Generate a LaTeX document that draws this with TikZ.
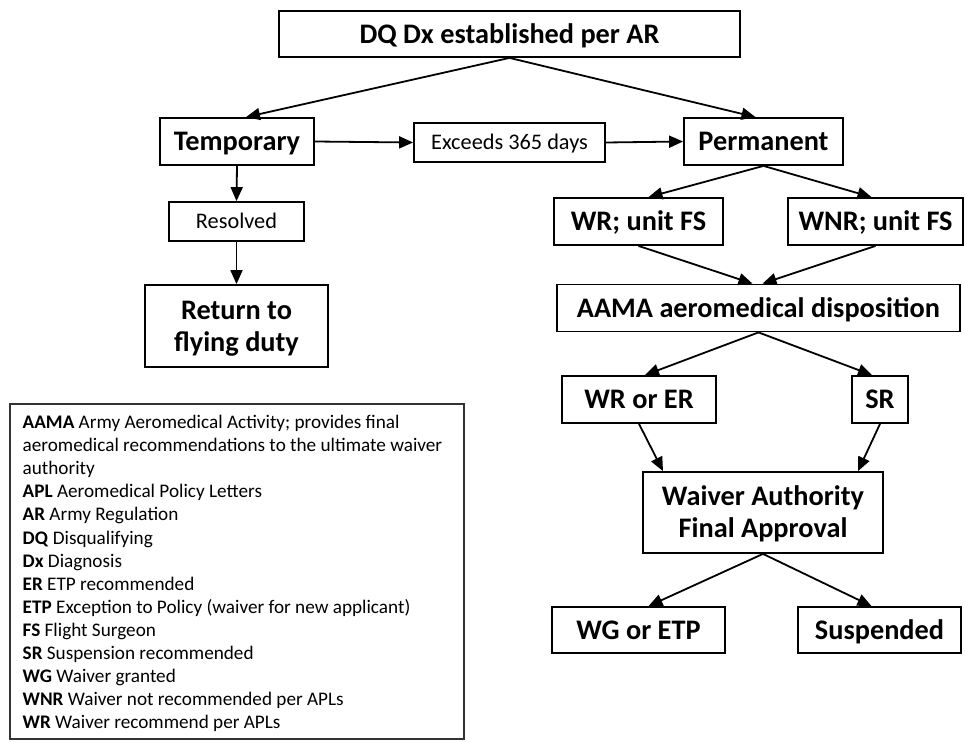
\documentclass[tikz,border=0pt]{standalone}
\usepackage{fontspec}
\setmainfont{Carlito}
\usetikzlibrary{arrows.meta}
\tikzset{
  box/.style={draw=black, line width=1.8pt, fill=white, inner sep=0pt, align=center,
    font=\fontsize{28.3}{32}\selectfont\bfseries, text height=18.2pt, text depth=0pt},
  twoline/.style={text height=50.2pt, text depth=0pt},
  smallbox/.style={draw=black, line width=1.8pt, fill=white, inner sep=0pt, align=center,
    font=\fontsize{22.3}{26}\selectfont, text height=14.3pt, text depth=0pt},
  arr/.style={-{Triangle[length=14pt,width=12pt]}, line width=1.8pt, draw=black},
  legendframe/.style={draw=black!80, line width=1.1pt},
  legendtext/.style={anchor=north west, inner sep=0pt, align=left, font=\fontsize{19.2}{23.1}\selectfont},
}
\begin{document}
\begin{tikzpicture}[x=1pt, y=-1pt]
\useasboundingbox (0,0) rectangle (965,741);
% nodes
\node[box, minimum width=461pt, minimum height=46pt] (top) at (509.5,34) {DQ Dx established per AR};
\node[box, minimum width=154pt, minimum height=47pt] (temp) at (237,141.5) {Temporary};
\node[smallbox, minimum width=191pt, minimum height=39pt] (exc) at (509.5,142.5) {Exceeds 365 days};
\node[box, minimum width=159pt, minimum height=47pt] (perm) at (763.5,141.5) {Permanent};
\node[smallbox, minimum width=135pt, minimum height=39pt] (res) at (236.5,221.5) {Resolved};
\node[box, twoline, minimum width=183pt, minimum height=82pt] (ret) at (236.5,326) {Return to\\flying duty};
\node[box, minimum width=169pt, minimum height=47pt] (wrfs) at (638.5,221.5) {WR; unit FS};
\node[box, minimum width=175pt, minimum height=47pt] (wnr) at (875.5,221.5) {WNR; unit FS};
\node[box, minimum width=403pt, minimum height=47pt] (aama) at (758.5,308) {AAMA aeromedical disposition};
\node[box, minimum width=154pt, minimum height=47pt] (wrer) at (639,399.5) {WR or ER};
\node[box, minimum width=56pt, minimum height=47pt] (sr) at (880,399.5) {SR};
\node[box, twoline, minimum width=240pt, minimum height=81pt] (wa) at (763,512.5) {Waiver Authority\\Final Approval};
\node[box, minimum width=173pt, minimum height=46pt] (wg) at (638.5,630) {WG or ETP};
\node[box, minimum width=163pt, minimum height=46pt] (susp) at (879.5,630) {Suspended};
% legend
\node[legendframe, minimum width=454pt, minimum height=335pt, inner sep=0pt] (legend) at (237,571.5) {};
\node[legendtext] (legendtxt) at (22.5,415) {%
\textbf{AAMA} Army Aeromedical Activity; provides final\\
aeromedical recommendations to the ultimate waiver\\
authority\\
\textbf{APL} Aeromedical Policy Letters\\
\textbf{AR} Army Regulation\\
\textbf{DQ} Disqualifying\\
\textbf{Dx} Diagnosis\\
\textbf{ER} ETP recommended\\
\textbf{ETP} Exception to Policy (waiver for new applicant)\\
\textbf{FS} Flight Surgeon\\
\textbf{SR} Suspension recommended\\
\textbf{WG} Waiver granted\\
\textbf{WNR} Waiver not recommended per APLs\\
\textbf{WR} Waiver recommend per APLs};
% connectors
\draw[arr] (top.south) -- ([xshift=9pt]temp.north);
\draw[arr] (top.south) -- ([xshift=-8pt]perm.north);
\draw[arr] (temp.east) -- (exc.west);
\draw[arr] (exc.east) -- (perm.west);
\draw[arr] (temp.south) -- (res.north);
\draw[arr] (res.south) -- (ret.north);
\draw[arr] (perm.south) -- ([xshift=10pt]wrfs.north);
\draw[arr] (perm.south) -- ([xshift=-4pt]wnr.north);
\draw[arr] (wrfs.south) -- ([xshift=-6pt]aama.north);
\draw[arr] (wnr.south) -- ([xshift=4pt]aama.north);
\draw[arr] (aama.south) -- ([xshift=6pt]wrer.north);
\draw[arr] (aama.south) -- ([xshift=-8pt]sr.north);
\draw[arr] (wrer.south) -- ([xshift=-100pt]wa.north);
\draw[arr] (sr.south) -- ([xshift=95pt]wa.north);
\draw[arr] (wa.south) -- ([xshift=10pt]wg.north);
\draw[arr] (wa.south) -- ([xshift=-8pt]susp.north);
\end{tikzpicture}
\end{document}
